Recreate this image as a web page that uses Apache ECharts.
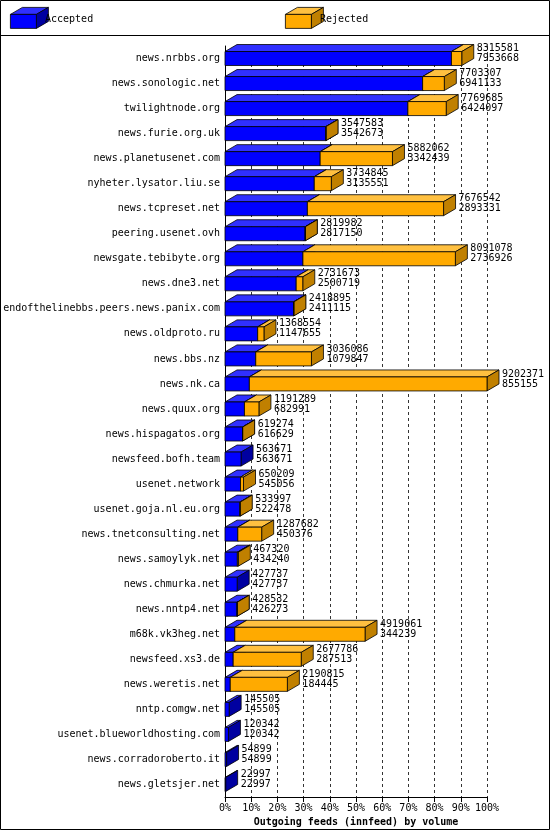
<!DOCTYPE html><html><head><meta charset="utf-8">
<script src="https://cdn.jsdelivr.net/npm/echarts@6/dist/echarts.min.js"></script>
<style>html,body{margin:0;background:#fff}#c{width:550px;height:830px}</style></head><body><div id="c"></div>
<script>
const categories=["news.nrbbs.org","news.sonologic.net","twilightnode.org","news.furie.org.uk","news.planetusenet.com","nyheter.lysator.liu.se","news.tcpreset.net","peering.usenet.ovh","newsgate.tebibyte.org","news.dne3.net","endofthelinebbs.peers.news.panix.com","news.oldproto.ru","news.bbs.nz","news.nk.ca","news.quux.org","news.hispagatos.org","newsfeed.bofh.team","usenet.network","usenet.goja.nl.eu.org","news.tnetconsulting.net","news.samoylyk.net","news.chmurka.net","news.nntp4.net","m68k.vk3heg.net","newsfeed.xs3.de","news.weretis.net","nntp.comgw.net","usenet.blueworldhosting.com","news.corradoroberto.it","news.gletsjer.net"];
const totals=[8315581,7703307,7769685,3547583,5882062,3734845,7676542,2819982,8091078,2731673,2418895,1368554,3036086,9202371,1191289,619274,563671,650209,533997,1287682,467320,427737,428532,4919061,2677786,2190815,145505,120342,54899,22997];
const accepted=[7953668,6941133,6424097,3542673,3342439,3135551,2893331,2817150,2736926,2500719,2411115,1147655,1079847,855155,682991,616629,563671,545056,522478,450376,434240,427737,426273,344239,287513,184445,145505,120342,54899,22997];
const tickLabels=["0%","10%","20%","30%","40%","50%","60%","70%","80%","90%","100%"];
const maxT=Math.max(...totals);
const data=categories.map((c,i)=>[i,totals[i],accepted[i]]);
const DX=12,DY=7,F='"DejaVu Sans Mono",monospace';
function box(x0,x1,y,h,cf,ct,cs){
  return [
    {type:'polygon',shape:{points:[[x0,y-h],[x0+DX,y-h-DY],[x1+DX,y-h-DY],[x1,y-h]]},style:{fill:ct,stroke:'#000',lineWidth:0.8}},
    {type:'polygon',shape:{points:[[x1,y-h],[x1+DX,y-h-DY],[x1+DX,y+h-DY],[x1,y+h]]},style:{fill:cs,stroke:'#000',lineWidth:0.8}},
    {type:'rect',shape:{x:x0,y:y-h,width:Math.max(x1-x0,0),height:2*h},style:{fill:cf,stroke:'#000',lineWidth:0.8}}
  ];
}
const chart=echarts.init(document.getElementById('c'));
chart.setOption({
  animation:false,
  grid:{left:225,right:63,top:46,bottom:33,containLabel:false,outerBoundsMode:'none'},
  xAxis:{type:'value',min:0,max:100,interval:10,
    axisLabel:{formatter:v=>tickLabels[v/10],color:'#000',fontFamily:F,fontSize:10,margin:6},
    axisLine:{show:true,lineStyle:{color:'#000'}},axisTick:{show:true,lineStyle:{color:'#000'}},
    splitLine:{show:true,lineStyle:{color:'#000',type:[3,3],width:0.8}},
    name:'Outgoing feeds (innfeed) by volume',nameLocation:'middle',nameGap:17,
    nameTextStyle:{fontFamily:F,fontSize:10,fontWeight:'bold',color:'#000'}},
  yAxis:{type:'category',data:categories,inverse:true,
    axisLabel:{color:'#000',fontFamily:F,fontSize:10,margin:5},
    axisLine:{lineStyle:{color:'#000'}},axisTick:{show:false}},
  graphic:[
    {type:'rect',shape:{x:0.5,y:0.5,width:549,height:829},style:{fill:'none',stroke:'#000'}},
    {type:'line',shape:{x1:0,y1:35.5,x2:550,y2:35.5},style:{stroke:'#000'}},
    {type:'group',left:10,top:7,children:box(0,26,14,7,'#0000ff','#3030ff','#0000a0')},
    {type:'text',left:45,top:14,style:{text:'Accepted',font:'10px '+F,fill:'#000'}},
    {type:'group',left:285,top:7,children:box(0,26,14,7,'#ffaa00','#ffc040','#c08000')},
    {type:'text',left:320,top:14,style:{text:'Rejected',font:'10px '+F,fill:'#000'}}
  ],
  series:[{type:'custom',data:data,encode:{x:1,y:0},clip:false,
    renderItem:(p,api)=>{
      const i=api.value(0),t=api.value(1),a=api.value(2);
      const y=api.coord([0,i])[1];
      const x0=api.coord([0,i])[0];
      const x1=api.coord([a/maxT*100,i])[0];
      const x2=api.coord([t/maxT*100,i])[0];
      const h=7;
      let ch=box(x0,x1,y,h,'#0000ff','#3030ff','#0000a0');
      if(t>a) ch=ch.concat(box(x1,x2,y,h,'#ffaa00','#ffc040','#c08000'));
      ch.push({type:'text',style:{text:t+'\n'+a,x:x2+DX+3,y:y-h-DY-1,font:'10px '+F,fill:'#000',lineHeight:10}});
      return {type:'group',children:ch};
    }}]
});
</script></body></html>
